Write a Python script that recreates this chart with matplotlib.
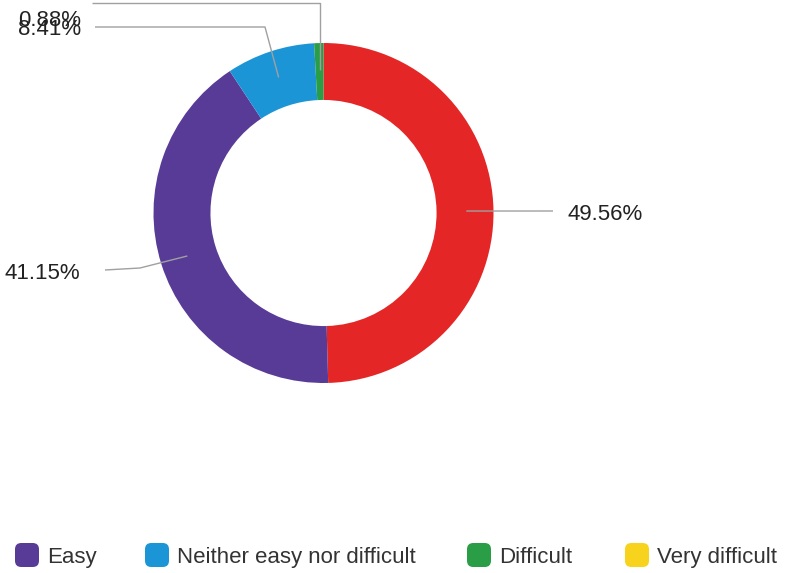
import numpy as np
import matplotlib
matplotlib.use('Agg')
import matplotlib.pyplot as plt
from matplotlib.patches import FancyBboxPatch

plt.rcParams['font.family'] = ['Liberation Sans', 'DejaVu Sans']

# slices in drawing order (clockwise from 12 o'clock)
slice_values = [49.56, 41.15, 8.41, 0.88]
slice_colors = ['#e42726', '#573b97', '#1c95d7', '#2a9d47']
slice_labels = ['49.56%', '41.15%', '8.41%', '0.88%']

legend_names = ['Easy', 'Neither easy nor difficult', 'Difficult', 'Very difficult']
legend_colors = ['#573b97', '#1c95d7', '#2a9d47', '#f7d31d']

W, H = 785, 573
fig = plt.figure(figsize=(W / 100, H / 100), dpi=100)
# donut centred at (323.5, 213) px, outer radius 170 px
cx, cy, R = 323.5, 213, 170
ax = fig.add_axes([(cx - R) / W, (H - cy - R) / H, 2 * R / W, 2 * R / H])
ax.axis('off')

wedges, _ = ax.pie(slice_values, colors=slice_colors, startangle=90,
                   counterclock=False, radius=1,
                   wedgeprops=dict(width=0.335, linewidth=0))
ax.set_xlim(-1, 1)
ax.set_ylim(-1, 1)
ax.set_aspect('equal')

# mid angle of every slice (degrees, math convention)
cum = np.cumsum([0] + slice_values)
mid = [90 - 3.6 * (cum[i] + cum[i + 1]) / 2 for i in range(len(slice_values))]

def px(x, y):
    return (x - cx) / R, (cy - y) / R

line_kw = dict(color='#a0a0a0', lw=1, clip_on=False, solid_capstyle='butt')
txt_kw = dict(fontsize=16, color='#222222', va='center_baseline')

# leader lines: anchor on the ring, then elbow/end points
elbows = [
    [px(553, 211)],
    [px(140, 268), px(105, 270)],
    [px(265, 27), px(95, 27)],
    [None, px(92, 3)],
]
text_pos = [(px(568, 212), 'left'), (px(80, 271), 'right'),
            (px(81, 27), 'right'), (px(81, 18), 'right')]

r_anchor = 0.84
for i in range(len(slice_values)):
    a = np.radians(mid[i])
    ax_, ay_ = r_anchor * np.cos(a), r_anchor * np.sin(a)
    pts = [(ax_, ay_)]
    for p in elbows[i]:
        if p is None:
            p = (ax_, px(0, 3)[1])
        pts.append(p)
    xs, ys = zip(*pts)
    ax.plot(xs, ys, **line_kw)
    (tx, ty), ha = text_pos[i]
    ax.text(tx, ty, slice_labels[i], ha=ha, **txt_kw)

# legend along the bottom
sq_left = [15, 145, 467, 625]
for x0, name, col in zip(sq_left, legend_names, legend_colors):
    box = FancyBboxPatch((x0 / W, (H - 567) / H), 24 / W, 24 / H,
                         boxstyle='round,pad=0,rounding_size=0.008',
                         transform=fig.transFigure, facecolor=col,
                         edgecolor='none', mutation_aspect=W / H)
    fig.add_artist(box)
    fig.text((x0 + 32) / W, (H - 555) / H, name, fontsize=16,
             color='#333333', va='center_baseline', ha='left')

fig.savefig('out.png', dpi=100)
